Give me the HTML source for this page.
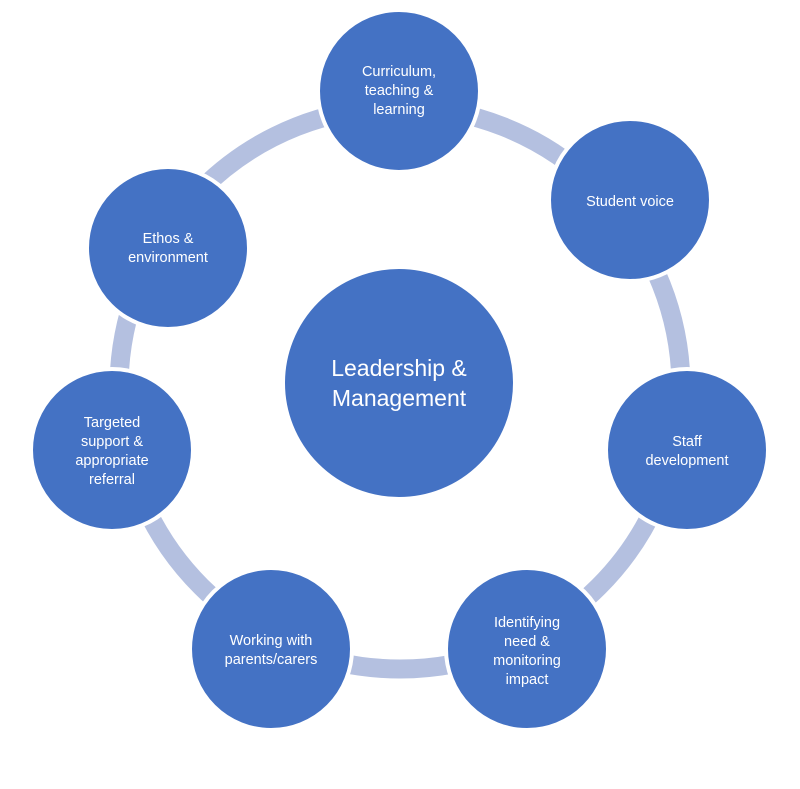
<!DOCTYPE html>
<html><head><style>
html,body{margin:0;padding:0;background:#fff;}
svg{display:block;}
text{font-family:"Liberation Sans",sans-serif;fill:#fff;text-anchor:middle;}
</style></head><body>
<svg width="800" height="789" viewBox="0 0 800 789">
<circle cx="400" cy="388" r="281" fill="none" stroke="#b4c0e0" stroke-width="19"/>
<g fill="#4472c4" stroke="#fff" stroke-width="4">
<circle cx="399" cy="383" r="116"/>
<circle cx="399" cy="91" r="81"/>
<circle cx="630" cy="200" r="81"/>
<circle cx="687" cy="450" r="81"/>
<circle cx="527" cy="649" r="81"/>
<circle cx="271" cy="649" r="81"/>
<circle cx="112" cy="450" r="81"/>
<circle cx="168" cy="248" r="81"/>
</g>
<g font-size="14.5">
<text x="399" y="76">Curriculum,</text><text x="399" y="95">teaching &amp;</text><text x="399" y="114">learning</text>
<text x="630" y="206">Student voice</text>
<text x="687" y="446">Staff</text><text x="687" y="465">development</text>
<text x="527" y="627">Identifying</text><text x="527" y="646">need &amp;</text><text x="527" y="665">monitoring</text><text x="527" y="684">impact</text>
<text x="271" y="645">Working with</text><text x="271" y="664">parents/carers</text>
<text x="112" y="427">Targeted</text><text x="112" y="446">support &amp;</text><text x="112" y="465">appropriate</text><text x="112" y="484">referral</text>
<text x="168" y="243">Ethos &amp;</text><text x="168" y="262">environment</text>
</g>
<g font-size="23">
<text x="399" y="376">Leadership &amp;</text><text x="399" y="406">Management</text>
</g>
</svg>
</body></html>
